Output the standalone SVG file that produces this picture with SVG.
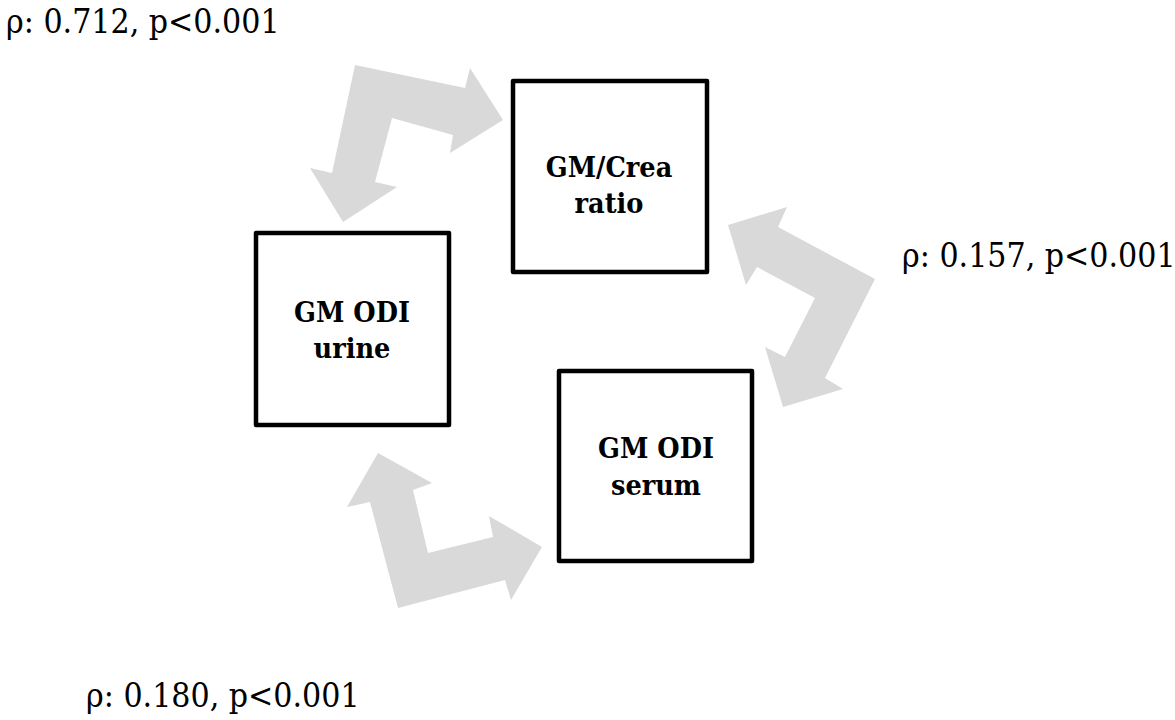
<svg xmlns="http://www.w3.org/2000/svg" width="1175" height="720" viewBox="0 0 1175 720">
<style>
.box{fill:#fff;stroke:#000;stroke-width:4.5;stroke-linejoin:round}
.lbl{font-family:"DejaVu Serif Condensed","DejaVu Serif","Liberation Serif",serif;font-stretch:condensed;font-weight:bold;font-size:28.5px;fill:#000;text-anchor:middle}
.rho{font-family:"DejaVu Serif Condensed","DejaVu Serif","Liberation Serif",serif;font-stretch:condensed;font-size:33.5px;fill:#000}
.arr{fill:#d9d9d9;stroke:none}
</style>
<rect width="1175" height="720" fill="#fff"/>
<g id="connectors">
<polygon class="arr" points="355,65 465,88 470,68 503,120 450,153 453,135 392,118 375,182 397,187 343,222 310,168 332,173"/>
<polygon class="arr" points="728,225 787,207 778,227 875,279 825,378 843,389 783,407 765,347 785,357 815,298 757,267 746,285"/>
<polygon class="arr" points="378,453 432,483 413,490 428,553 493,537 489,516 542,547 511,600 505,580 398,608 370,502 347,507"/>
</g>
<g id="node-crea">
<rect class="box" x="513" y="81" width="194" height="191"/>
<text class="lbl" x="609" y="177">GM/Crea</text>
<text class="lbl" x="609" y="213">ratio</text>
</g>
<g id="node-urine">
<rect class="box" x="256" y="233" width="193" height="192"/>
<text class="lbl" x="352" y="322">GM ODI</text>
<text class="lbl" x="352" y="358">urine</text>
</g>
<g id="node-serum">
<rect class="box" x="559" y="371" width="193" height="190"/>
<text class="lbl" x="656" y="458">GM ODI</text>
<text class="lbl" x="656" y="495">serum</text>
</g>
<g id="labels">
<text class="rho" x="6" y="33">ρ: 0.712, p&lt;0.001</text>
<text class="rho" x="902" y="267">ρ: 0.157, p&lt;0.001</text>
<text class="rho" x="86" y="707">ρ: 0.180, p&lt;0.001</text>
</g>
</svg>
